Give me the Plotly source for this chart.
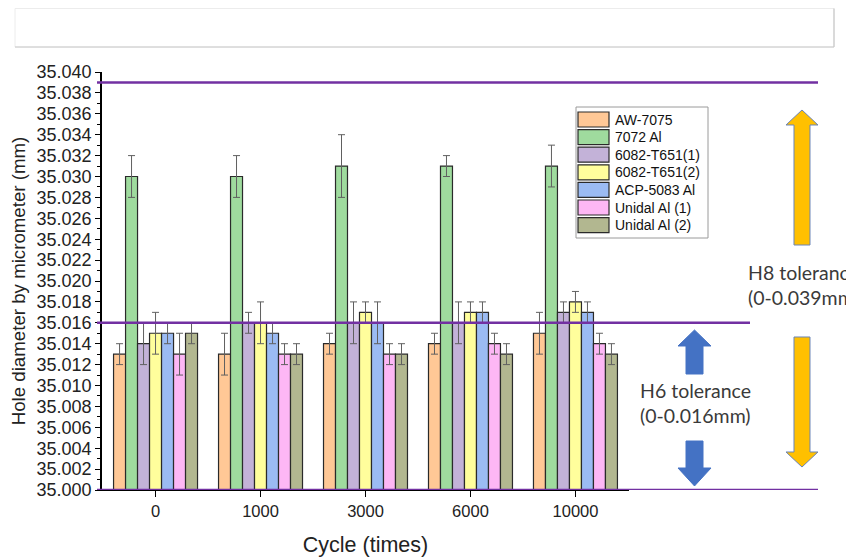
import plotly.graph_objects as go

cycles = ["0", "1000", "3000", "6000", "10000"]
series_names = ["AW-7075", "7072 Al", "6082-T651(1)", "6082-T651(2)",
                "ACP-5083 Al", "Unidal Al (1)", "Unidal Al (2)"]
colors = ["#FFC896", "#9FDB9E", "#C3B2D8", "#FFFE9C", "#9BBBF3", "#FDB7F5", "#B2B790"]

aw7075 = [35.013, 35.013, 35.014, 35.014, 35.015]
al7072 = [35.030, 35.030, 35.031, 35.031, 35.031]
t651_1 = [35.014, 35.016, 35.016, 35.016, 35.017]
t651_2 = [35.015, 35.016, 35.017, 35.017, 35.018]
acp5083 = [35.015, 35.015, 35.016, 35.017, 35.017]
unidal1 = [35.013, 35.013, 35.013, 35.014, 35.014]
unidal2 = [35.015, 35.013, 35.013, 35.013, 35.013]

err_aw7075 = [0.001, 0.002, 0.001, 0.001, 0.002]
err_al7072 = [0.002, 0.002, 0.003, 0.001, 0.002]
err_t651_1 = [0.002, 0.001, 0.002, 0.002, 0.001]
err_t651_2 = [0.002, 0.002, 0.001, 0.001, 0.001]
err_acp5083 = [0.001, 0.001, 0.002, 0.001, 0.001]
err_unidal1 = [0.002, 0.001, 0.001, 0.001, 0.001]
err_unidal2 = [0.001, 0.001, 0.001, 0.001, 0.001]

values = [aw7075, al7072, t651_1, t651_2, acp5083, unidal1, unidal2]
errors = [err_aw7075, err_al7072, err_t651_1, err_t651_2, err_acp5083, err_unidal1, err_unidal2]

h6_limit = 35.016
h8_limit = 35.039
nominal = 35.000

# page has an 8px body margin; layout coordinates below are in window pixels
OFF = 8
WIN_W, WIN_H = 854, 560
W, H = WIN_W - OFF, WIN_H - OFF
L, R, T, B = 102, 629, 72, 490
PW, PH = R - L, B - T


def px(x):
    return (x - L) / PW


def py(y):
    return (B - y) / PH


fig = go.Figure()
for name, col, vals, errs in zip(series_names, colors, values, errors):
    fig.add_trace(go.Bar(
        x=cycles, y=vals, name=name, showlegend=False,
        marker=dict(color=col, line=dict(color="#2a2a2a", width=1.2)),
        error_y=dict(type="data", array=errs, visible=True, color="#606060",
                     thickness=1, width=3.5),
    ))

shapes = []
# tolerance lines
for yv, xend in [(h8_limit, 818), (h6_limit, 750), (nominal, 818)]:
    shapes.append(dict(type="line", xref="paper", yref="y", x0=px(97), x1=px(xend),
                       y0=yv, y1=yv, line=dict(color="#7230A2", width=2.5), layer="above"))

# top empty box
shapes.append(dict(type="rect", xref="paper", yref="paper", x0=px(15), x1=px(834),
                   y0=py(47), y1=py(8.5), line=dict(color="#ececec", width=1),
                   fillcolor="rgba(0,0,0,0)"))
shapes.append(dict(type="line", xref="paper", yref="paper", x0=px(15), x1=px(834),
                   y0=py(47), y1=py(47), line=dict(color="#c8c8c8", width=1.2)))
shapes.append(dict(type="line", xref="paper", yref="paper", x0=px(834), x1=px(834),
                   y0=py(47), y1=py(8.5), line=dict(color="#c8c8c8", width=1.2)))


def arrow(cx, sh, hh, tip, hb, tail):
    pts = [(cx - sh, tail), (cx - sh, hb), (cx - hh, hb), (cx, tip),
           (cx + hh, hb), (cx + sh, hb), (cx + sh, tail)]
    return "M " + " L ".join(f"{px(a):.5f},{py(b):.5f}" for a, b in pts) + " Z"


# yellow H8 arrows
for tip, hb, tail in [(110, 125, 245), (467, 452, 337)]:
    shapes.append(dict(type="path", xref="paper", yref="paper",
                       path=arrow(802, 8, 16, tip, hb, tail),
                       fillcolor="#FFC000", line=dict(color="#6A84B8", width=1)))
# blue H6 arrows
for tip, hb, tail in [(330, 346, 374), (486, 468, 441)]:
    shapes.append(dict(type="path", xref="paper", yref="paper",
                       path=arrow(694.5, 8.5, 16.5, tip, hb, tail),
                       fillcolor="#4472C4", line=dict(color="#4472C4", width=1)))

annotations = []
annotations.append(dict(xref="paper", yref="paper", x=px(746), y=py(285), xanchor="left",
                        yanchor="middle", align="left", showarrow=False,
                        text="H8 tolerance<br>(0-0.039mm)",
                        font=dict(family="Lato", size=19.5, color="#3a3a3a")))
annotations.append(dict(xref="paper", yref="paper", x=px(638), y=py(403), xanchor="left",
                        yanchor="middle", align="left", showarrow=False,
                        text="H6 tolerance<br>(0-0.016mm)",
                        font=dict(family="Lato", size=19.5, color="#3a3a3a")))

# custom legend
shapes.append(dict(type="rect", xref="paper", yref="paper", x0=px(576), x1=px(708),
                   y0=py(238), y1=py(107), line=dict(color="#9a9a9a", width=1),
                   fillcolor="white", layer="above"))
for i, (name, col) in enumerate(zip(series_names, colors)):
    top = 112 + i * 17.6
    shapes.append(dict(type="rect", xref="paper", yref="paper", x0=px(578), x1=px(609),
                       y0=py(top + 15), y1=py(top), fillcolor=col,
                       line=dict(color="#2a2a2a", width=1.2), layer="above"))
    annotations.append(dict(xref="paper", yref="paper", x=px(613), y=py(top + 7.5),
                            xanchor="left", yanchor="middle", showarrow=False, text=name,
                            font=dict(family="Arial", size=14, color="#111")))

fig.update_layout(
    width=W, height=H,
    margin=dict(l=L - OFF, r=WIN_W - R, t=T - OFF, b=WIN_H - B, pad=0),
    paper_bgcolor="white", plot_bgcolor="white",
    barmode="group", bargap=0.2, bargroupgap=0,
    font=dict(family="Arial", color="#222"),
    shapes=shapes, annotations=annotations,
    showlegend=False,
)
fig.update_xaxes(
    type="category", range=[-0.51, 4.51], showline=True, linecolor="black", linewidth=1.2,
    ticks="outside", ticklen=6, tickcolor="black", tickwidth=1.2, automargin=False,
    tickfont=dict(family="Arial", size=16.5, color="#222"), showgrid=False,
    title=dict(text="Cycle (times)", font=dict(family="Arial", size=21.5, color="#222"), standoff=18),
)
fig.update_yaxes(
    range=[35.000, 35.040], dtick=0.002, tick0=35.0, tickformat=".3f", automargin=False,
    showline=True, linecolor="black", linewidth=1.5, ticks="outside", ticklen=5,
    tickcolor="black", tickwidth=1.2, showgrid=False, zeroline=False,
    minor=dict(dtick=0.001, ticks="outside", ticklen=3, tickcolor="black", tickwidth=1),
    tickfont=dict(family="Arial", size=18, color="#222"),
    title=dict(text="Hole diameter by micrometer (mm)",
               font=dict(family="Arial", size=18.7, color="#222"), standoff=8),
)
fig.write_html("out.html")
